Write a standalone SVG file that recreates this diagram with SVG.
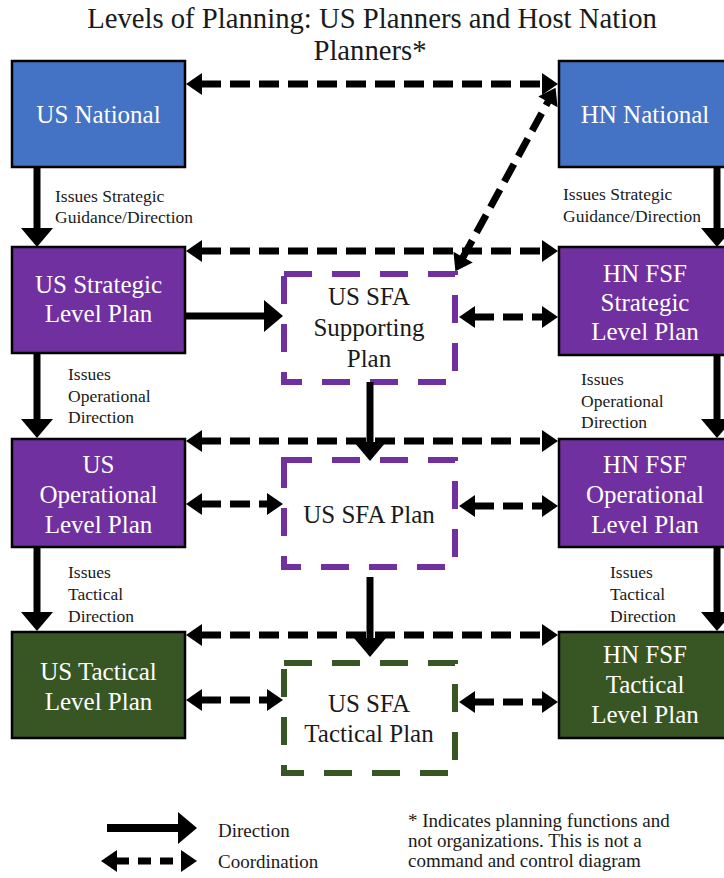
<svg xmlns="http://www.w3.org/2000/svg" width="724" height="878" viewBox="0 0 724 878">
<defs>
<style>
text{font-family:"Liberation Serif","Times New Roman",serif;}
.title{font-size:28.7px;fill:#1a1a1a;text-anchor:middle;}
.box{stroke:#000;stroke-width:2.5;}
.blue{fill:#4472C4;}
.purple{fill:#7030A0;}
.green{fill:#375623;}
.bt{font-size:25px;fill:#fff;text-anchor:middle;}
.st{font-size:25px;fill:#1a1a1a;text-anchor:middle;}
.sfa{fill:#fff;stroke-width:6;stroke-dasharray:28 20;}
.sfap{stroke:#7030A0;}
.sfag{stroke:#375623;}
.lbl{font-size:17.5px;fill:#1a1a1a;}
.leg{font-size:19px;fill:#1a1a1a;}
.dir{stroke:#000;stroke-width:7;fill:none;marker-end:url(#ah);}
.co{stroke:#000;stroke-width:7;fill:none;stroke-dasharray:20 9;marker-start:url(#dh);marker-end:url(#dh);}
</style>
<marker id="ah" markerUnits="userSpaceOnUse" viewBox="0 -16 20 32" markerWidth="20" markerHeight="32" refX="1" refY="0" orient="auto-start-reverse" overflow="visible">
<path d="M0,-16 L19,0 L0,16 z" fill="#000"/>
</marker>
<marker id="dh" markerUnits="userSpaceOnUse" viewBox="0 -11 17 22" markerWidth="17" markerHeight="22" refX="1" refY="0" orient="auto-start-reverse" overflow="visible">
<path d="M0,-11 L16,0 L0,11 z" fill="#000"/>
</marker>
</defs>
<rect width="724" height="878" fill="#fff"/>

<g id="title">
<text class="title" x="372" y="28">Levels of Planning: US Planners and Host Nation</text>
<text class="title" x="370" y="60">Planners*</text>
</g>

<g id="us-national">
<rect class="box blue" x="12" y="61" width="173" height="106"/>
<text class="bt" x="98.5" y="123">US National</text>
</g>
<g id="hn-national">
<rect class="box blue" x="559" y="61" width="173" height="106"/>
<text class="bt" x="645" y="123">HN National</text>
</g>

<g id="us-strategic">
<rect class="box purple" x="12" y="247" width="173" height="106"/>
<text class="bt" x="98.5" y="293">US Strategic</text>
<text class="bt" x="98.5" y="322">Level Plan</text>
</g>
<g id="hn-strategic">
<rect class="box purple" x="559" y="247" width="173" height="108"/>
<text class="bt" x="645" y="282">HN FSF</text>
<text class="bt" x="645" y="311">Strategic</text>
<text class="bt" x="645" y="340">Level Plan</text>
</g>
<g id="sfa-supporting">
<rect class="sfa sfap" x="284" y="274" width="171" height="108"/>
<text class="st" x="369" y="305">US SFA</text>
<text class="st" x="369" y="336">Supporting</text>
<text class="st" x="369" y="367">Plan</text>
</g>

<g id="us-operational">
<rect class="box purple" x="12" y="439" width="173" height="108"/>
<text class="bt" x="98.5" y="473">US</text>
<text class="bt" x="98.5" y="503">Operational</text>
<text class="bt" x="98.5" y="533">Level Plan</text>
</g>
<g id="hn-operational">
<rect class="box purple" x="559" y="439" width="173" height="108"/>
<text class="bt" x="645" y="473">HN FSF</text>
<text class="bt" x="645" y="503">Operational</text>
<text class="bt" x="645" y="533">Level Plan</text>
</g>
<g id="sfa-plan">
<rect class="sfa sfap" x="284" y="460" width="171" height="107"/>
<text class="st" x="369" y="523">US SFA Plan</text>
</g>

<g id="us-tactical">
<rect class="box green" x="12" y="632" width="173" height="106"/>
<text class="bt" x="98.5" y="680">US Tactical</text>
<text class="bt" x="98.5" y="710">Level Plan</text>
</g>
<g id="hn-tactical">
<rect class="box green" x="559" y="632" width="173" height="106"/>
<text class="bt" x="645" y="663">HN FSF</text>
<text class="bt" x="645" y="693">Tactical</text>
<text class="bt" x="645" y="723">Level Plan</text>
</g>
<g id="sfa-tactical">
<rect class="sfa sfag" x="284" y="663" width="171" height="110"/>
<text class="st" x="369" y="712">US SFA</text>
<text class="st" x="369" y="742">Tactical Plan</text>
</g>

<g id="connectors">
<line class="dir" x1="37" y1="168" x2="37" y2="229"/>
<line class="dir" x1="717" y1="168" x2="717" y2="229"/>
<line class="dir" x1="37" y1="354" x2="37" y2="420"/>
<line class="dir" x1="717" y1="356" x2="717" y2="420"/>
<line class="dir" x1="37" y1="548" x2="37" y2="613"/>
<line class="dir" x1="717" y1="548" x2="717" y2="613"/>
<line class="dir" x1="370" y1="382" x2="370" y2="443"/>
<line class="dir" x1="370" y1="577" x2="370" y2="639"/>
<line class="dir" x1="186" y1="316" x2="265" y2="316"/>
<line class="co" x1="201" y1="84" x2="543" y2="84"/>
<line class="co" x1="201" y1="251" x2="543" y2="251"/>
<line class="co" x1="201" y1="441" x2="543" y2="441"/>
<line class="co" x1="201" y1="635" x2="543" y2="635"/>
<line class="co" x1="474" y1="317" x2="543" y2="317"/>
<line class="co" x1="201" y1="504" x2="268" y2="504"/>
<line class="co" x1="474" y1="506" x2="543" y2="506"/>
<line class="co" x1="201" y1="700" x2="268" y2="700"/>
<line class="co" x1="474" y1="702" x2="543" y2="702"/>
<line class="co" x1="462.6" y1="258" x2="548.4" y2="101"/>
<text class="lbl" x="55" y="202">Issues Strategic</text>
<text class="lbl" x="55" y="223">Guidance/Direction</text>
<text class="lbl" x="563" y="200">Issues Strategic</text>
<text class="lbl" x="563" y="222">Guidance/Direction</text>
<text class="lbl" x="68" y="380">Issues</text>
<text class="lbl" x="68" y="402">Operational</text>
<text class="lbl" x="68" y="423">Direction</text>
<text class="lbl" x="581" y="385">Issues</text>
<text class="lbl" x="581" y="407">Operational</text>
<text class="lbl" x="581" y="428">Direction</text>
<text class="lbl" x="68" y="578">Issues</text>
<text class="lbl" x="68" y="600">Tactical</text>
<text class="lbl" x="68" y="622">Direction</text>
<text class="lbl" x="610" y="578">Issues</text>
<text class="lbl" x="610" y="600">Tactical</text>
<text class="lbl" x="610" y="622">Direction</text>
</g>

<g id="legend">
<line x1="107" y1="828" x2="179" y2="828" stroke="#000" stroke-width="8" marker-end="url(#ah)"/>
<text class="leg" x="218" y="837">Direction</text>
<line x1="116" y1="861" x2="182" y2="861" stroke="#000" stroke-width="7" stroke-dasharray="13 9" marker-start="url(#dh)" marker-end="url(#dh)"/>
<text class="leg" x="218" y="868">Coordination</text>
</g>

<g id="footnote">
<text class="leg" x="408" y="827">* Indicates planning functions and</text>
<text class="leg" x="408" y="847">not organizations. This is not a</text>
<text class="leg" x="408" y="867">command and control diagram</text>
</g>
</svg>
